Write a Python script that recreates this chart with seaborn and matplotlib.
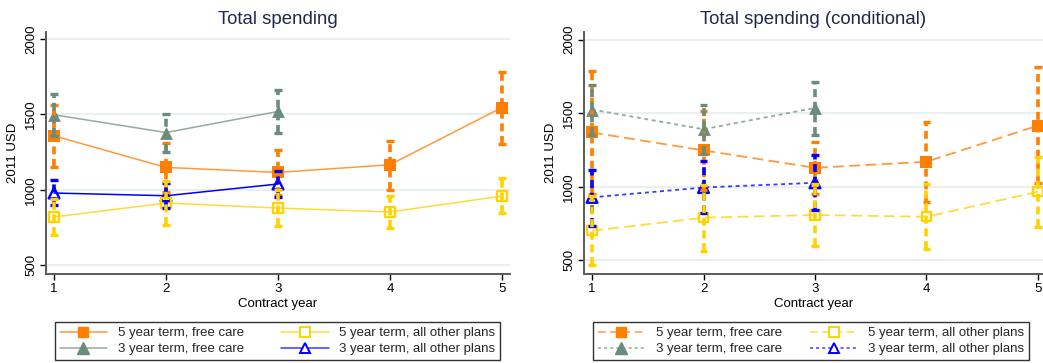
import numpy as np
import pandas as pd
import matplotlib
matplotlib.use("Agg")
import matplotlib.pyplot as plt
from matplotlib.lines import Line2D
import seaborn as sns

sns.set_theme(style="white")
plt.rcParams['font.family'] = ['Liberation Sans', 'DejaVu Sans']

# ---- data ----
series_names = ["5 year term, free care", "5 year term, all other plans",
                "3 year term, free care", "3 year term, all other plans"]
years5 = [1, 2, 3, 4, 5]
years3 = [1, 2, 3]

# Left panel: Total spending
L_5free = [1358, 1148, 1115, 1166, 1546]
L_5free_lo = [1148, 986, 965, 1000, 1305]
L_5free_hi = [1564, 1310, 1265, 1325, 1785]
L_5other = [819, 912, 878, 852, 958]
L_5other_lo = [701, 768, 757, 743, 845]
L_5other_hi = [937, 1056, 999, 960, 1077]
L_3free = [1498, 1380, 1520]
L_3free_lo = [1354, 1248, 1380]
L_3free_hi = [1635, 1504, 1664]
L_3other = [978, 960, 1038]
L_3other_lo = [896, 878, 951]
L_3other_hi = [1064, 1046, 1122]

# Right panel: Total spending (conditional)
R_5free = [1369, 1247, 1129, 1170, 1416]
R_5free_lo = [953, 981, 950, 896, 1027]
R_5free_hi = [1785, 1513, 1303, 1439, 1814]
R_5other = [701, 790, 808, 796, 966]
R_5other_lo = [468, 566, 597, 579, 729]
R_5other_hi = [934, 1014, 1019, 1016, 1204]
R_3free = [1525, 1391, 1536]
R_3free_lo = [1351, 1226, 1351]
R_3free_hi = [1694, 1554, 1710]
R_3other = [928, 995, 1027]
R_3other_lo = [735, 819, 842]
R_3other_hi = [1113, 1176, 1215]

yticks = [500, 1000, 1500, 2000]
xticks = [1, 2, 3, 4, 5]

ORANGE = "#FF7F00"
GRAY = "#6B8B7C"
YELLOW = "#FFD200"
BLUE = "#0000FF"
ORANGE_L = "#FF9A3C"
GRAY_L = "#93AB9F"
YELLOW_L = "#FFDB3A"
BLUE_L = "#3A3AFF"

fig = plt.figure(figsize=(10.43, 3.63), dpi=100)
axL = fig.add_axes([46/1043, 1-274/363, 464/1043, 242/363])
axR = fig.add_axes([584/1043, 1-274/363, 459/1043, 242/363])


def draw_series(ax, x, y, lo, hi, color, lcolor, marker, filled, ls, lw, ms):
    df = pd.DataFrame({"x": x, "y": y})
    sns.lineplot(data=df, x="x", y="y", ax=ax, color=lcolor, lw=lw,
                 linestyle=ls, marker=None, zorder=3, legend=False)
    sns.scatterplot(data=df, x="x", y="y", ax=ax, marker=marker, s=ms,
                    color=color if filled else "none",
                    edgecolor=color, linewidth=0 if filled else 1.7,
                    zorder=4, legend=False)
    x = np.asarray(x, float)
    ax.vlines(x, lo, hi, colors=color, linestyles=(0, (2.2, 1.3)),
              lw=2.6, zorder=5)
    ax.hlines(lo, x - 0.035, x + 0.035, colors=color, lw=2.4, zorder=5)
    ax.hlines(hi, x - 0.035, x + 0.035, colors=color, lw=2.4, zorder=5)


# left
draw_series(axL, years5, L_5free, L_5free_lo, L_5free_hi, ORANGE, ORANGE_L, "s", True, "-", 1.1, 66)
draw_series(axL, years3, L_3free, L_3free_lo, L_3free_hi, GRAY, GRAY_L, "^", True, "-", 1.1, 85)
draw_series(axL, years3, L_3other, L_3other_lo, L_3other_hi, BLUE, BLUE, "^", False, "-", 1.1, 60)
draw_series(axL, years5, L_5other, L_5other_lo, L_5other_hi, YELLOW, YELLOW_L, "s", False, "-", 1.1, 45)

# right
draw_series(axR, years5, R_5free, R_5free_lo, R_5free_hi, ORANGE, ORANGE_L, "s", True, (0, (6, 3)), 1.3, 66)
draw_series(axR, years3, R_3free, R_3free_lo, R_3free_hi, GRAY, GRAY_L, "^", True, (0, (2.2, 2)), 1.3, 85)
draw_series(axR, years3, R_3other, R_3other_lo, R_3other_hi, BLUE, BLUE_L, "^", False, (0, (2.2, 2)), 1.3, 60)
draw_series(axR, years5, R_5other, R_5other_lo, R_5other_hi, YELLOW, YELLOW_L, "s", False, (0, (6, 3)), 1.3, 45)

for ax, title, ylim, xlim in [(axL, "Total spending", (440, 2048), (0.928, 5.072)),
                              (axR, "Total spending (conditional)", (407, 2052), (0.928, 5.045))]:
    ax.set_xlim(*xlim)
    ax.set_ylim(*ylim)
    ax.set_xticks(xticks)
    ax.set_yticks(yticks)
    ax.set_yticklabels([str(v) for v in yticks], rotation=90, va="center")
    ax.set_xlabel("Contract year", fontsize=9.5, color="black", labelpad=2)
    ax.set_ylabel("2011 USD", fontsize=9.5, color="black", labelpad=4)
    ax.set_title(title, fontsize=13.4, color="#1E2A4A", pad=6)
    ax.tick_params(axis="both", labelsize=9.5, colors="black", length=4.5,
                   width=1.0, direction="out", bottom=True, left=True, pad=2)
    ax.grid(axis="y", color="#E6EFEF", lw=1.3)
    ax.grid(axis="x", visible=False)
    ax.set_axisbelow(True)
    for side in ["top", "right"]:
        ax.spines[side].set_visible(False)
    for side in ["left", "bottom"]:
        ax.spines[side].set_color("#5A5A5A")
        ax.spines[side].set_linewidth(1.4)
    ax.set_facecolor("white")


def handles(style):
    if style == "solid":
        ls = {"o": "-", "g": "-", "y": "-", "b": "-"}
    else:
        ls = {"o": (0, (5, 3)), "g": (0, (2, 2)), "y": (0, (5, 3)), "b": (0, (2, 2))}
    h = [
        Line2D([], [], color=ORANGE_L, ls=ls["o"], lw=1.1, marker="s", ms=7.5,
               markerfacecolor=ORANGE, markeredgecolor=ORANGE),
        Line2D([], [], color=GRAY_L, ls=ls["g"], lw=1.1, marker="^", ms=8.5,
               markerfacecolor=GRAY, markeredgecolor=GRAY),
        Line2D([], [], color=YELLOW_L, ls=ls["y"], lw=1.1, marker="s", ms=7,
               markerfacecolor="white", markeredgecolor=YELLOW, markeredgewidth=1.4),
        Line2D([], [], color=BLUE_L, ls=ls["b"], lw=1.1, marker="^", ms=7.5,
               markerfacecolor="white", markeredgecolor=BLUE, markeredgewidth=1.4),
    ]
    return h


labels = ["5 year term, free care", "3 year term, free care",
          "5 year term, all other plans", "3 year term, all other plans"]

for h, box in [(handles("solid"), (55/1043, 3/363, 445/1043, 43/363)),
               (handles("dash"), (593/1043, 3/363, 436/1043, 43/363))]:
    leg = fig.legend(h, labels, loc="lower left", bbox_to_anchor=box,
                     mode="expand", ncol=2, fontsize=9.5, frameon=True,
                     fancybox=False, edgecolor="black", handlelength=3.6,
                     handletextpad=0.8, borderpad=0.35, labelspacing=0.3,
                     borderaxespad=0)
    leg.get_frame().set_linewidth(1.0)

fig.savefig("out.png", dpi=100, facecolor="white")
